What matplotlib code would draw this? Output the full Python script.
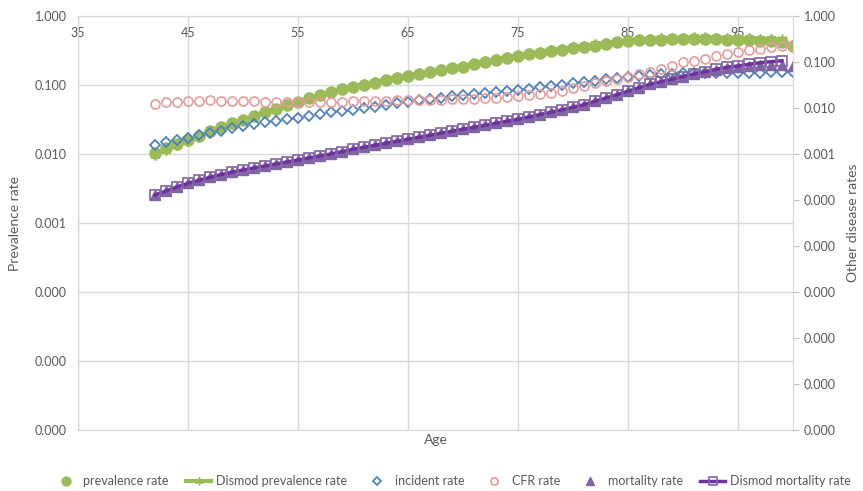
import matplotlib
matplotlib.use("Agg")
import matplotlib.pyplot as plt
from matplotlib.ticker import LogLocator, NullLocator, FormatStrFormatter

plt.rcParams['font.family'] = ['Lato', 'DejaVu Sans']

ages = list(range(42, 101))
ages_dismod = list(range(42, 100))

prevalence = [
    0.0104, 0.0121, 0.0139, 0.0160, 0.0185, 0.0213, 0.0246, 0.0279, 0.0315, 0.0355,
    0.0402, 0.0454, 0.0510, 0.0573, 0.0642, 0.0716, 0.0794, 0.0866, 0.0929, 0.1007,
    0.1087, 0.1174, 0.1263, 0.1350, 0.1443, 0.1538, 0.1638, 0.1741, 0.1841, 0.1982,
    0.2133, 0.2288, 0.2453, 0.2632, 0.2786, 0.2950, 0.3099, 0.3260, 0.3415, 0.3565,
    0.3735, 0.3915, 0.4143, 0.4315, 0.4416, 0.4489, 0.4564, 0.4612, 0.4642, 0.4642,
    0.4627, 0.4597, 0.4550, 0.4489, 0.4430, 0.4371, 0.4315, 0.4244, 0.3711,
]

dismod_prevalence = [
    0.0098, 0.0114, 0.0133, 0.0154, 0.0179, 0.0207, 0.0239, 0.0273, 0.0311, 0.0353,
    0.0401, 0.0454, 0.0512, 0.0576, 0.0646, 0.0722, 0.0802, 0.0878, 0.0945, 0.1025,
    0.1110, 0.1200, 0.1295, 0.1385, 0.1480, 0.1580, 0.1685, 0.1790, 0.1895, 0.2040,
    0.2195, 0.2355, 0.2525, 0.2710, 0.2875, 0.3045, 0.3205, 0.3375, 0.3540, 0.3700,
    0.3880, 0.4070, 0.4300, 0.4480, 0.4600, 0.4690, 0.4770, 0.4830, 0.4870, 0.4890,
    0.4890, 0.4870, 0.4840, 0.4800, 0.4750, 0.4700, 0.4650, 0.4580,
]

incident = [
    0.00157, 0.00178, 0.00200, 0.00226, 0.00255, 0.00286, 0.00321, 0.00360, 0.00402, 0.00449,
    0.00486, 0.00525, 0.00565, 0.00607, 0.00667, 0.00733, 0.00807, 0.00857, 0.00905, 0.00985,
    0.01072, 0.01162, 0.01265, 0.01371, 0.01470, 0.01570, 0.01683, 0.01796, 0.01918, 0.02015,
    0.02118, 0.02226, 0.02342, 0.02462, 0.02628, 0.02805, 0.03008, 0.03211, 0.03428, 0.03659,
    0.03905, 0.04168, 0.04467, 0.04768, 0.05012, 0.05245, 0.05457, 0.05597, 0.05678, 0.05736,
    0.05765, 0.05794, 0.05823, 0.05852, 0.05882, 0.05912, 0.05942, 0.05942, 0.05972,
]

cfr = [
    0.01222, 0.01330, 0.01371, 0.01420, 0.01449, 0.01470, 0.01441, 0.01434, 0.01420, 0.01385,
    0.01350, 0.01350, 0.01350, 0.01350, 0.01350, 0.01350, 0.01350, 0.01377, 0.01406, 0.01420,
    0.01434, 0.01449, 0.01470, 0.01493, 0.01500, 0.01508, 0.01523, 0.01538, 0.01546, 0.01570,
    0.01617, 0.01675, 0.01751, 0.01851, 0.01946, 0.02046, 0.02151, 0.02350, 0.02700, 0.03080,
    0.03548, 0.03864, 0.04205, 0.04648, 0.05404, 0.06152, 0.07150, 0.08311, 0.09853, 0.10510,
    0.11450, 0.13500, 0.14700, 0.16250, 0.17960, 0.19180, 0.20870, 0.22620, 0.23080,
]

mortality = [
    0.000128, 0.000157, 0.000192, 0.000231, 0.000268, 0.000311, 0.000355, 0.000400, 0.000449, 0.000496,
    0.000548, 0.000606, 0.000670, 0.000741, 0.000819, 0.000905, 0.001000, 0.001122, 0.001265, 0.001399,
    0.001546, 0.001709, 0.001889, 0.002088, 0.002308, 0.002552, 0.002821, 0.003118, 0.003446, 0.003802,
    0.004203, 0.004646, 0.005136, 0.005677, 0.006370, 0.007190, 0.008110, 0.009140, 0.010350, 0.011860,
    0.013990, 0.016490, 0.019460, 0.023070, 0.027620, 0.032750, 0.037310, 0.042050, 0.047900, 0.054000,
    0.060000, 0.066500, 0.072500, 0.077500, 0.082000, 0.084500, 0.085500, 0.085000, 0.083200,
]

dismod_mortality = [
    0.000128, 0.000157, 0.000192, 0.000231, 0.000268, 0.000311, 0.000355, 0.000400, 0.000449, 0.000496,
    0.000548, 0.000606, 0.000670, 0.000741, 0.000819, 0.000905, 0.001000, 0.001122, 0.001265, 0.001399,
    0.001546, 0.001709, 0.001889, 0.002088, 0.002308, 0.002552, 0.002821, 0.003118, 0.003446, 0.003802,
    0.004203, 0.004646, 0.005136, 0.005677, 0.006370, 0.007190, 0.008110, 0.009140, 0.010350, 0.011860,
    0.013990, 0.016490, 0.019460, 0.023070, 0.027620, 0.032750, 0.037310, 0.042050, 0.047900, 0.054840,
    0.061520, 0.069370, 0.076680, 0.081860, 0.089130, 0.096530, 0.101500, 0.106700,
]

x_ticks = [35, 45, 55, 65, 75, 85, 95]

GREEN = "#9BBB59"
BLUE = "#4F81BD"
PINK = "#E49C9A"
VIOLET = "#8064A2"
PURPLE = "#7030A0"
GRID = "#D9D9D9"
TEXT = "#595959"

fig = plt.figure(figsize=(8.63, 4.91), dpi=100)
ax1 = fig.add_axes([78 / 863, 1 - 430 / 491, (793 - 78) / 863, (430 - 16) / 491])
ax2 = ax1.twinx()

# left axis: prevalence
ax1.plot(ages, prevalence, linestyle="none", marker="o", markersize=8,
         color=GREEN, label="prevalence rate", zorder=3)
ax1.plot(ages_dismod, dismod_prevalence, color=GREEN, lw=3, marker=(6, 2, 0),
         markersize=7.5, markeredgewidth=1, label="Dismod prevalence rate", zorder=4)

# right axis: other rates
ax2.plot(ages, incident, linestyle="none", marker="D", markersize=5,
         markerfacecolor="none", markeredgecolor=BLUE, markeredgewidth=1.3,
         label="incident rate")
ax2.plot(ages, cfr, linestyle="none", marker="o", markersize=6.5,
         markerfacecolor="none", markeredgecolor=PINK, markeredgewidth=1.2,
         label="CFR rate")
ax2.plot(ages, mortality, linestyle="none", marker="^", markersize=7.5,
         color=VIOLET, label="mortality rate")
ax2.plot(ages_dismod, dismod_mortality, color=PURPLE, lw=2.5, marker="s",
         markersize=6.5, markerfacecolor="none", markeredgecolor=VIOLET,
         markeredgewidth=1.2, label="Dismod mortality rate")

for ax, lo in ((ax1, 1e-6), (ax2, 1e-9)):
    ax.set_yscale("log")
    ax.set_ylim(lo, 1)
    ax.yaxis.set_major_locator(LogLocator(base=10, numticks=20))
    ax.yaxis.set_minor_locator(NullLocator())
    ax.yaxis.set_major_formatter(FormatStrFormatter("%.3f"))
    for s in ax.spines.values():
        s.set_color(GRID)

ax1.set_xlim(35, 100)
ax1.set_xticks(x_ticks)
ax1.xaxis.set_minor_locator(NullLocator())
ax1.tick_params(axis="x", bottom=False, top=False, labelbottom=False,
                labeltop=True, pad=-20, labelsize=9, labelcolor=TEXT)
ax1.tick_params(axis="y", length=0, pad=8, labelsize=9, labelcolor=TEXT)
ax2.tick_params(axis="y", length=4, width=0.8, color="#BFBFBF", pad=4,
                labelsize=9, labelcolor=TEXT)
ax1.grid(True, color=GRID, lw=1)
ax1.set_axisbelow(True)

ax1.set_xlabel("Age", fontsize=10, color=TEXT, labelpad=3)
ax1.set_ylabel("Prevalence rate", fontsize=10, color=TEXT, labelpad=10)
ax2.set_ylabel("Other disease rates", fontsize=10, color=TEXT, labelpad=8)

h1, l1 = ax1.get_legend_handles_labels()
h2, l2 = ax2.get_legend_handles_labels()
fig.legend(h1 + h2, l1 + l2, loc="center", bbox_to_anchor=(452 / 863, 1 - 481 / 491),
           ncol=6, frameon=False, fontsize=9, labelcolor=TEXT, markerscale=0.8,
           handlelength=2.0, columnspacing=1.4, handletextpad=0.4)

fig.savefig("out.png", dpi=100)
